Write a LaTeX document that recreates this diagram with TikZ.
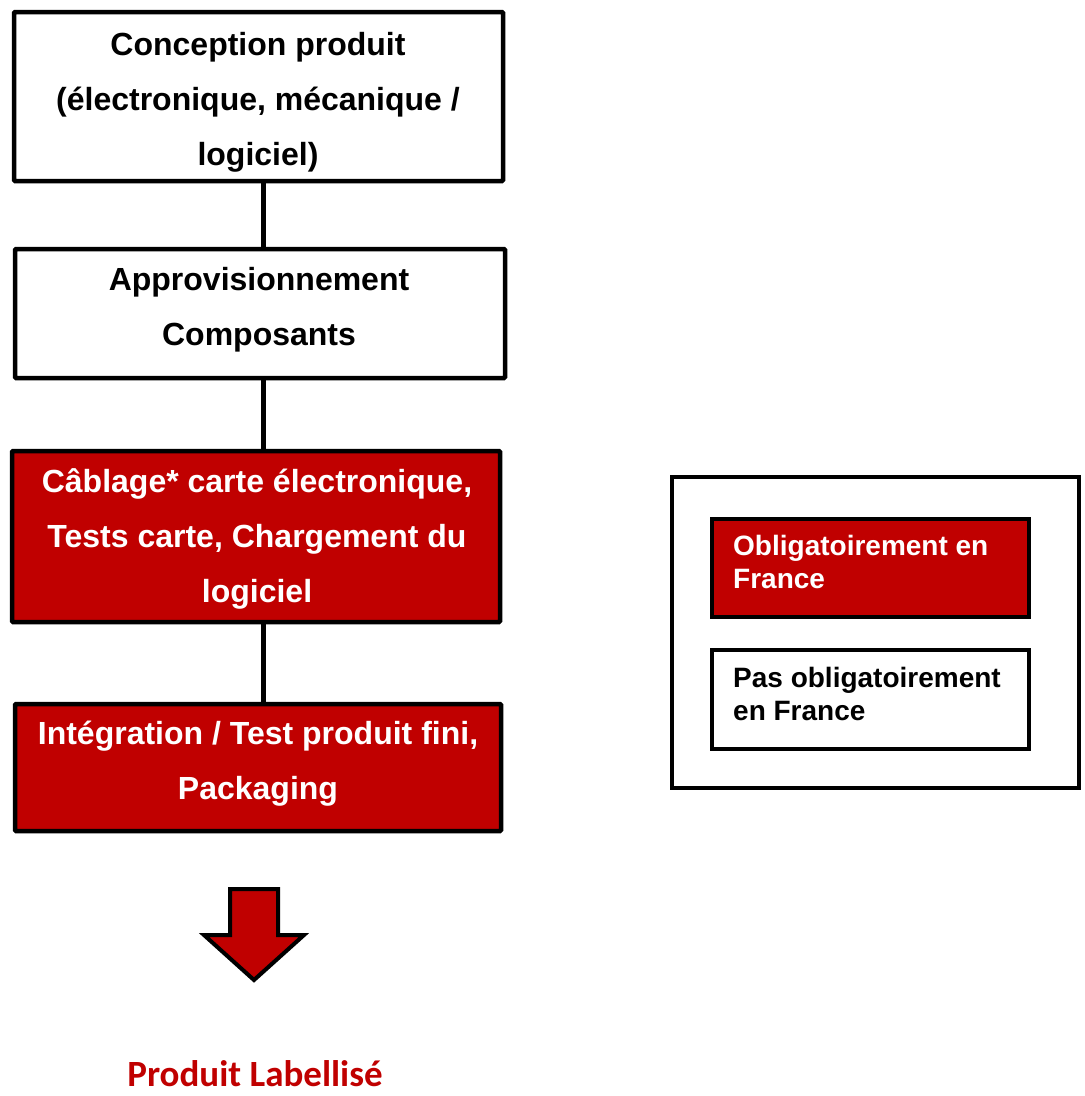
\documentclass[tikz,border=0pt]{standalone}
\usepackage{fontspec}
\setmainfont{Liberation Sans}
\newfontfamily\labfont{Carlito}
\definecolor{frred}{RGB}{192,0,0}
\begin{document}
\begin{tikzpicture}[x=1pt,y=-1pt,
  box/.style={draw=black, line width=4.5pt, inner sep=0pt, rounded corners=1pt},
  redbox/.style={box, fill=frred},
  whitebox/.style={box, fill=white},
  legbox/.style={draw=black, line width=4pt, inner sep=0pt},
  btxt/.style={inner sep=0pt, align=center, anchor=north, font=\fontsize{32}{55}\selectfont\bfseries},
  ltxt/.style={inner sep=0pt, align=left, anchor=north west, font=\fontsize{28}{33}\selectfont\bfseries},
  conn/.style={draw=black, line width=5pt},
]
\useasboundingbox (0,0) rectangle (1085,1096);

% main boxes
\node[whitebox, minimum width=489, minimum height=169] (b1) at (258.5,96.5) {};
\node[whitebox, minimum width=490, minimum height=129] (b2) at (260,313.5) {};
\node[redbox, minimum width=488, minimum height=171] (b3) at (256,536.5) {};
\node[redbox, minimum width=486, minimum height=127] (b4) at (258,767.5) {};

% connectors
\coordinate (cx) at (263,0);
\draw[conn] (b1.south -| cx) -- (b2.north -| cx);
\draw[conn] (b2.south -| cx) -- (b3.north -| cx);
\draw[conn] (b3.south -| cx) -- (b4.north -| cx);

% texts
\node[btxt] (t1) at (258,17) {\strut Conception produit\\(électronique, mécanique /\\logiciel)};
\node[btxt] (t2) at (259,251.5) {\strut Approvisionnement\\Composants};
\node[btxt, text=white] (t3) at (257,453.5) {\strut Câblage* carte électronique,\\Tests carte, Chargement du\\logiciel};
\node[btxt, text=white] (t4) at (258,705.5) {\strut Intégration / Test produit fini,\\Packaging};

% legend
\node[legbox, fill=white, minimum width=407, minimum height=311] (leg) at (875.5,632.5) {};
\node[legbox, fill=frred, minimum width=317, minimum height=98] (lr) at (870.5,568) {};
\node[legbox, fill=white, minimum width=317, minimum height=99] (lw) at (870.5,699.5) {};
\node[ltxt, text=white] (lrt) at (733,531.9) {\strut Obligatoirement en\\France};
\node[ltxt] (lwt) at (733,663.9) {\strut Pas obligatoirement\\en France};

% down arrow
\draw[line width=4pt, fill=frred, line join=miter]
  (230,889) -- (278,889) -- (278,935) -- (304,935) -- (254,980) -- (204,935) -- (230,935) -- cycle;

% result label
\node[inner sep=0pt, anchor=base, text depth=0pt, text=frred, font=\labfont\bfseries\fontsize{37}{42}\selectfont] (res) at (255,1086) {Produit Labellisé};
\end{tikzpicture}
\end{document}
